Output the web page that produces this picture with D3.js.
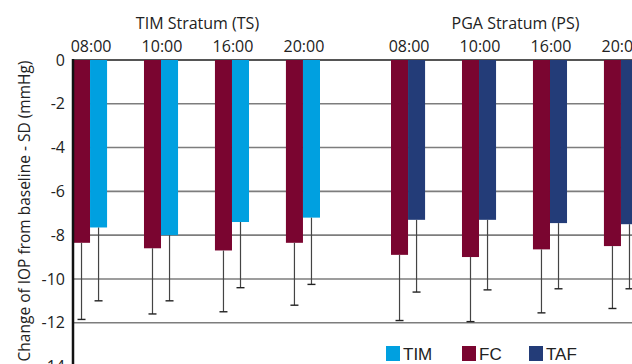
<!DOCTYPE html>
<html>
<head>
<meta charset="utf-8">
<script src="https://cdn.jsdelivr.net/npm/d3@7"></script>
<style>
  html, body { margin: 0; padding: 0; background: #fff; }
  svg { display: block; }
  text { font-family: "Open Sans", "Noto Sans", sans-serif; fill: #222; }
  .legend text { font-family: "Liberation Sans Narrow", "Arial Narrow", "Liberation Sans", sans-serif; }
</style>
</head>
<body>
<svg id="chart" width="632" height="364"></svg>
<script>
// Strata, time points and tick labels
const strata = ["TIM Stratum (TS)", "PGA Stratum (PS)"];
const times = ["08:00", "10:00", "16:00", "20:00"];
const yTicks = [0, -2, -4, -6, -8, -10, -12, -14];

// TIM stratum: FC and TIM mean change (mmHg) and SD
const tsFCMean = [-8.35, -8.6, -8.7, -8.35];
const tsFCSd   = [3.5, 3.0, 2.8, 2.85];
const tsTIMMean = [-7.65, -8.0, -7.4, -7.2];
const tsTIMSd   = [3.35, 3.0, 3.0, 3.05];

// PGA stratum: FC and TAF mean change (mmHg) and SD
const psFCMean = [-8.9, -9.0, -8.65, -8.5];
const psFCSd   = [3.0, 2.95, 2.9, 2.85];
const psTAFMean = [-7.3, -7.3, -7.45, -7.5];
const psTAFSd   = [3.3, 3.2, 3.0, 2.95];

const legendLabels = ["TIM", "FC", "TAF"];
const colors = { TIM: "#00a0e0", FC: "#7a0530", TAF: "#233c78" };

// Flatten into rows: one per bar
const rows = [];
times.forEach((t, i) => {
  rows.push({ stratum: strata[0], time: t, slot: 0, series: "FC",  mean: tsFCMean[i],  sd: tsFCSd[i] });
  rows.push({ stratum: strata[0], time: t, slot: 1, series: "TIM", mean: tsTIMMean[i], sd: tsTIMSd[i] });
  rows.push({ stratum: strata[1], time: t, slot: 0, series: "FC",  mean: psFCMean[i],  sd: psFCSd[i] });
  rows.push({ stratum: strata[1], time: t, slot: 1, series: "TAF", mean: psTAFMean[i], sd: psTAFSd[i] });
});

const W = 632, H = 364;
const svg = d3.select("#chart");

const y = d3.scaleLinear().domain([0, -14]).range([60, 366.5]);

const xStratum = d3.scaleBand().domain(strata).range([73, 638]).paddingInner(0.2233).paddingOuter(0);
const xTime = d3.scaleBand().domain(times).range([0, xStratum.bandwidth()]).paddingInner(0.52).paddingOuter(0);
const xSlot = d3.scaleBand().domain([0, 1]).range([0, xTime.bandwidth()]);

const barX = d => xStratum(d.stratum) + xTime(d.time) + xSlot(d.slot);

// Horizontal gridlines
svg.append("g")
  .selectAll("line")
  .data(yTicks.filter(v => v !== 0))
  .join("line")
  .attr("x1", 73).attr("x2", W)
  .attr("y1", d => y(d)).attr("y2", d => y(d))
  .attr("stroke", "#7d7d7d")
  .attr("stroke-width", 1.6);

// Zero line along the top
svg.append("line")
  .attr("x1", 73).attr("x2", W)
  .attr("y1", y(0)).attr("y2", y(0))
  .attr("stroke", "#555")
  .attr("stroke-width", 2);

// Bars
svg.append("g")
  .selectAll("rect")
  .data(rows)
  .join("rect")
  .attr("x", d => barX(d))
  .attr("y", y(0))
  .attr("width", xSlot.bandwidth())
  .attr("height", d => y(d.mean) - y(0))
  .attr("fill", d => colors[d.series]);

// Error whiskers (mean - SD)
const eb = svg.append("g");
eb.selectAll("line.stem")
  .data(rows)
  .join("line")
  .attr("class", "stem")
  .attr("x1", d => barX(d) + xSlot.bandwidth() / 2)
  .attr("x2", d => barX(d) + xSlot.bandwidth() / 2)
  .attr("y1", d => y(d.mean))
  .attr("y2", d => y(d.mean - d.sd))
  .attr("stroke", "#444")
  .attr("stroke-width", 1.2);
eb.selectAll("line.cap")
  .data(rows)
  .join("line")
  .attr("class", "cap")
  .attr("x1", d => barX(d) + xSlot.bandwidth() / 2 - 4)
  .attr("x2", d => barX(d) + xSlot.bandwidth() / 2 + 4)
  .attr("y1", d => y(d.mean - d.sd))
  .attr("y2", d => y(d.mean - d.sd))
  .attr("stroke", "#222")
  .attr("stroke-width", 1.4);

// Y axis
const yAxis = d3.axisLeft(y).tickValues(yTicks).tickSize(0).tickPadding(8).tickFormat(d => d === 0 ? "0" : d3.format("d")(d).replace("\u2212", "-"));
const gy = svg.append("g").attr("transform", "translate(73,0)").call(yAxis);
gy.select(".domain").remove();
gy.selectAll("text").style("font-family", "\"Open Sans\", \"Noto Sans\", sans-serif").style("font-size", "16px").attr("fill", "#222");
svg.append("line")
  .attr("x1", 73).attr("x2", 73)
  .attr("y1", 59).attr("y2", H)
  .attr("stroke", "#111")
  .attr("stroke-width", 2.5);

// Time labels above each pair
const labels = [];
strata.forEach(s => times.forEach(t => labels.push({ s, t })));
svg.append("g")
  .selectAll("text")
  .data(labels)
  .join("text")
  .attr("x", d => xStratum(d.s) + xTime(d.t) + xTime.bandwidth() / 2 + 1)
  .attr("y", 52)
  .attr("text-anchor", "middle")
  .style("font-size", "16px")
  .text(d => d.t);

// Stratum titles
svg.append("g")
  .selectAll("text")
  .data(strata)
  .join("text")
  .attr("x", d => xStratum(d) + xStratum.bandwidth() / 2 + 1)
  .attr("y", 29)
  .attr("text-anchor", "middle")
  .style("font-size", "16px")
  .text(d => d);

// Y axis title
svg.append("text")
  .attr("transform", "translate(30,211) rotate(-90)")
  .attr("text-anchor", "middle")
  .style("font-size", "15.5px")
  .text("Change of IOP from baseline - SD (mmHg)");

// Legend
const legendX = [386, 462, 529];
const lg = svg.append("g").attr("class", "legend")
  .selectAll("g")
  .data(legendLabels)
  .join("g")
  .attr("transform", (d, i) => `translate(${legendX[i]},346)`);
lg.append("rect").attr("width", 14).attr("height", 15).attr("fill", d => colors[d]);
lg.append("text").attr("x", 17).attr("y", 14).style("font-size", "17px").text(d => d);
</script>
</body>
</html>
